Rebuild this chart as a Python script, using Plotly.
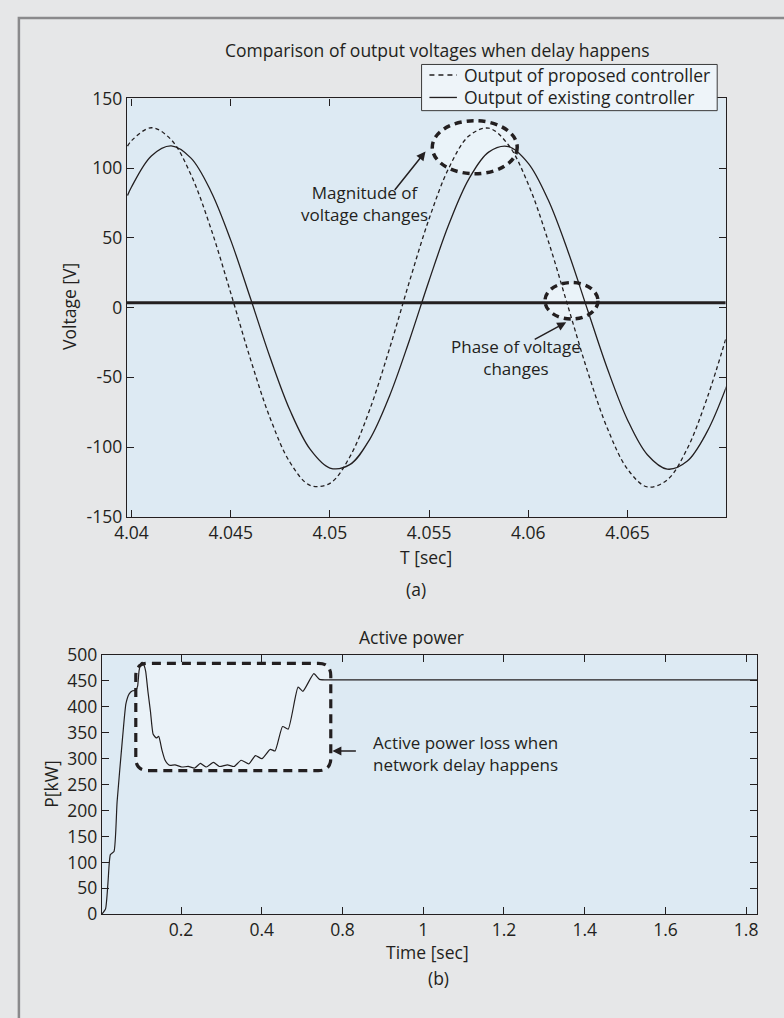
import plotly.graph_objects as go

W, H = 784, 1018
INK = '#231f20'
FONT = 'Open Sans'
FS = 17.5

# ---------------- (a) output voltages ----------------
T_A = [4.0398, 4.040, 4.041, 4.042, 4.043, 4.044, 4.045, 4.046, 4.047, 4.048,
       4.049, 4.050, 4.051, 4.052, 4.053, 4.054, 4.055, 4.056, 4.057, 4.058,
       4.059, 4.060, 4.061, 4.062, 4.063, 4.064, 4.065, 4.066, 4.067, 4.068,
       4.069, 4.070]
V_PROPOSED = [115.8, 119.7, 129.0, 120.4, 95.2, 56.8, 10.6, -37.1, -79.7, -111.2,
              -127.4, -126.0, -107.1, -73.4, -29.6, 18.3, 63.7, 100.3, 123.0, 128.7,
              116.6, 88.4, 48.0, 0.9, -46.3, -87.1, -115.8, -128.6, -123.5, -101.4,
              -65.3, -20.1]
V_EXISTING = [80.4, 86.5, 108.8, 116.0, 107.2, 83.5, 48.4, 6.5, -36.3, -74.0,
              -101.5, -115.0, -112.6, -94.6, -63.5, -23.7, 19.5, 59.9, 92.1, 111.5,
              115.5, 103.5, 77.3, 40.3, -2.2, -44.4, -80.5, -105.5, -115.8, -110.2,
              -89.3, -56.1]
V_REF_LEVEL = 3.5
XA_RANGE = [4.03977, 4.06995]
YA_RANGE = [-150, 150]
XA_TICKS = [4.04, 4.045, 4.05, 4.055, 4.06, 4.065]
XA_TEXT = ['4.04', '4.045', '4.05', '4.055', '4.06', '4.065']
YA_TICKS = [-150, -100, -50, 0, 50, 100, 150]
YA_TEXT = ['-150', '-100', '-50', '0', '50', '100', '150']
SERIES_NAMES = ['Output of proposed controller', 'Output of existing controller']

# ---------------- (b) active power ----------------
T_B = [0.004, 0.013, 0.019, 0.022, 0.025, 0.034, 0.0417, 0.0555, 0.0636, 0.0716,
       0.080, 0.088, 0.0925, 0.096, 0.1005, 0.1043, 0.108, 0.1124, 0.118, 0.1245,
       0.131, 0.139, 0.1447, 0.153, 0.160, 0.167, 0.173, 0.185, 0.2017, 0.2178,
       0.234, 0.248, 0.2626, 0.2804, 0.295, 0.315, 0.3316, 0.349, 0.368, 0.3844,
       0.4005, 0.421, 0.433, 0.4516, 0.4655, 0.49, 0.502, 0.529, 0.543, 0.571,
       0.8, 1.2, 1.628]
P_KW = [0, 10, 60, 96, 115, 121, 217, 343, 406, 425,
        431, 432, 440, 469, 484, 486, 481, 469, 430, 390,
        347, 340, 343, 316, 298, 290, 287, 288, 284, 285,
        282, 291, 284, 293, 285, 288, 285, 297, 290, 306,
        300, 318, 315, 362, 357, 438, 430, 464, 453, 452,
        452, 452, 452]
XB_RANGE = [0.004, 1.628]
YB_RANGE = [0, 500]
XB_TICKS = [0.2, 0.4, 0.6, 0.8, 1.0, 1.2, 1.4, 1.6]
XB_TEXT = ['0.2', '0.4', '0.8', '1', '1.2', '1.4', '1.6', '1.8']
YB_TICKS = [0, 50, 100, 150, 200, 250, 300, 350, 400, 450, 500]
YB_TEXT = [str(v) for v in YB_TICKS]


def px(x):
    return x / W


def py(y):
    return 1 - y / H


DASH_CURVE = '4px,3px'

fig = go.Figure()
fig.add_trace(go.Scatter(x=T_A, y=V_PROPOSED, mode='lines', name=SERIES_NAMES[0],
                         line=dict(color=INK, width=1.3, dash=DASH_CURVE, shape='spline', smoothing=1),
                         xaxis='x', yaxis='y', showlegend=False))
fig.add_trace(go.Scatter(x=T_A, y=V_EXISTING, mode='lines', name=SERIES_NAMES[1],
                         line=dict(color=INK, width=1.3, shape='spline', smoothing=1),
                         xaxis='x', yaxis='y', showlegend=False))
fig.add_trace(go.Scatter(x=XA_RANGE, y=[V_REF_LEVEL, V_REF_LEVEL], mode='lines',
                         line=dict(color=INK, width=3), showlegend=False,
                         xaxis='x', yaxis='y', hoverinfo='skip'))
fig.add_trace(go.Scatter(x=T_B, y=P_KW, mode='lines', showlegend=False, name='Active power',
                         line=dict(color=INK, width=1.2, shape='spline', smoothing=0.5),
                         xaxis='x2', yaxis='y2'))

axis_common = dict(showgrid=False, zeroline=False, showline=True, linecolor=INK, linewidth=1.3,
                   ticks='inside', ticklen=7, tickwidth=1.2, tickcolor=INK, mirror='ticks',
                   tickfont=dict(family=FONT, size=FS, color=INK), tickmode='array')

fig.update_layout(
    width=W, height=H,
    margin=dict(l=0, r=0, t=0, b=0),
    paper_bgcolor='#e6e7e8',
    plot_bgcolor='#ddeaf3',
    font=dict(family=FONT, size=FS, color=INK),
    showlegend=False,
    xaxis=dict(domain=[px(116), px(725.7)], range=XA_RANGE, tickvals=XA_TICKS, ticktext=XA_TEXT,
               anchor='y', **axis_common),
    yaxis=dict(domain=[py(516), py(87.5)], range=YA_RANGE, tickvals=YA_TICKS, ticktext=YA_TEXT,
               anchor='x', **axis_common),
    xaxis2=dict(domain=[px(90.5), px(758)], range=XB_RANGE, tickvals=XB_TICKS, ticktext=XB_TEXT,
                anchor='y2', **axis_common),
    yaxis2=dict(domain=[py(923), py(657.5)], range=YB_RANGE, tickvals=YB_TICKS, ticktext=YB_TEXT,
                anchor='x2', **axis_common),
)

# rounded dashed box in (b)
bx0, bx1, by0, by1 = 0.088, 0.571, 277, 484
rx, ry = 0.031, 24
box_path = (f'M {bx0+rx},{by0} L {bx1-rx},{by0} Q {bx1},{by0} {bx1},{by0+ry} '
            f'L {bx1},{by1-ry} Q {bx1},{by1} {bx1-rx},{by1} L {bx0+rx},{by1} '
            f'Q {bx0},{by1} {bx0},{by1-ry} L {bx0},{by0+ry} Q {bx0},{by0} {bx0+rx},{by0} Z')

# legend box geometry (pixels)
LEG_X0, LEG_X1, LEG_Y0, LEG_Y1 = 416, 717, 52.7, 100
LEG_ROWS = [63.5, 86.5]
LEG_SAMPLE = [424, 452]
LEG_TEXT_X = 457.5

shapes = [
    # outer frame
    dict(type='rect', xref='paper', yref='paper', x0=px(6), x1=1.05, y0=-0.05, y1=py(5),
         line=dict(color='#8a8a8c', width=2.5), fillcolor='rgba(0,0,0,0)', layer='below'),
    # magnitude ellipse
    dict(type='circle', xref='x', yref='y', x0=4.05516, x1=4.05944, y0=96, y1=134,
         fillcolor='#eaf3f9', line=dict(color=INK, width=3.5, dash='7px,5px'), layer='below'),
    # phase ellipse
    dict(type='circle', xref='x', yref='y', x0=4.06084, x1=4.06351, y0=-8.2, y1=18,
         fillcolor='#eaf3f9', line=dict(color=INK, width=3.5, dash='7px,5px'), layer='below'),
    # active power loss box
    dict(type='path', xref='x2', yref='y2', path=box_path,
         fillcolor='#eaf2f8', line=dict(color=INK, width=3.2, dash='9px,6px'), layer='below'),
    # legend box
    dict(type='rect', xref='paper', yref='paper', x0=px(LEG_X0), x1=px(LEG_X1),
         y0=py(LEG_Y1), y1=py(LEG_Y0), fillcolor='#eef4f9',
         line=dict(color='#3a3a3a', width=1), layer='above'),
    dict(type='line', xref='paper', yref='paper', x0=px(LEG_SAMPLE[0]), x1=px(LEG_SAMPLE[1]),
         y0=py(LEG_ROWS[0]), y1=py(LEG_ROWS[0]), line=dict(color=INK, width=1.3, dash='5px,4px'),
         layer='above'),
    dict(type='line', xref='paper', yref='paper', x0=px(LEG_SAMPLE[0]), x1=px(LEG_SAMPLE[1]),
         y0=py(LEG_ROWS[1]), y1=py(LEG_ROWS[1]), line=dict(color=INK, width=1.3),
         layer='above'),
]
fig.update_layout(shapes=shapes)

ann = []


def text(x, y, s, xanchor='center', angle=0, align='center', size=FS):
    ann.append(dict(xref='paper', yref='paper', x=px(x), y=py(y), text=s, showarrow=False,
                    xanchor=xanchor, yanchor='middle', textangle=angle, align=align,
                    font=dict(family=FONT, size=size, color=INK)))


def arrow(xref, yref, x, y, ax, ay):
    ann.append(dict(xref=xref, yref=yref, x=x, y=y, ax=ax, ay=ay, text='', showarrow=True,
                    arrowhead=2, arrowsize=1.2, arrowwidth=1.5, arrowcolor=INK))


text(432, 37.7, 'Comparison of output voltages when delay happens')
text(LEG_TEXT_X, LEG_ROWS[0], SERIES_NAMES[0], xanchor='left')
text(LEG_TEXT_X, LEG_ROWS[1], SERIES_NAMES[1], xanchor='left')
text(420, 557, 'T [sec]')
text(410, 590, '(a)')
text(57, 300, 'Voltage [V]', angle=-90)
text(358, 195.5, 'Magnitude of<br>voltage changes', size=17)
text(512, 352.5, 'Phase of voltage<br>changes', size=17)
arrow('x', 'y', 4.05482, 112, -32, 40)
arrow('x', 'y', 4.06191, -10.5, -33, 18)

text(406, 639, 'Active power')
text(422, 962, 'Time [sec]')
text(433, 988, '(b)')
text(39, 790, 'P[kW]', angle=-90)
text(365, 758, 'Active power loss when<br>network delay happens', xanchor='left', align='left', size=17)
arrow('x2', 'y2', 0.575, 315, 25, 0)

fig.update_layout(annotations=ann)

fig.write_html('out.html', config={'displayModeBar': False},
               post_script="document.body.style.margin='0px';document.body.style.overflow='hidden';")
